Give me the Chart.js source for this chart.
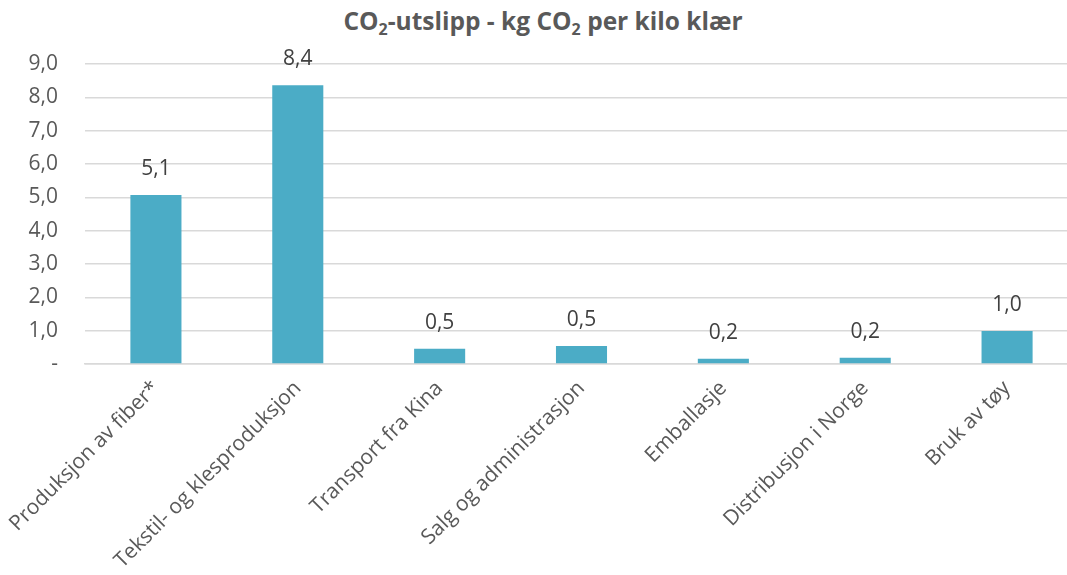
<!DOCTYPE html>
<html>
<head>
<meta charset="utf-8">
<script src="https://cdn.jsdelivr.net/npm/chart.js@4"></script>
<style>
  html, body { margin: 0; padding: 0; background: #fff; overflow: hidden; }
  #wrap { position: relative; width: 1067px; height: 575px; overflow: hidden; }
  #title {
    position: absolute; left: 0; top: 4px; width: 1086px; text-align: center;
    font-family: 'Open Sans', sans-serif; font-weight: bold; font-size: 24.5px; color: #595959;
  }
  #title sub { font-size: 16px; vertical-align: -5px; line-height: 0; }
  canvas { position: absolute; left: 0; top: 0; }
</style>
</head>
<body>
<div id="wrap">
  <div id="title">CO<sub>2</sub>-utslipp - kg CO<sub>2</sub> per kilo klær</div>
  <canvas id="chart" width="1078" height="575"></canvas>
</div>
<script>
// Data
const categories = [
  'Produksjon av fiber*',
  'Tekstil- og klesproduksjon',
  'Transport fra Kina',
  'Salg og administrasjon',
  'Emballasje',
  'Distribusjon i Norge',
  'Bruk av tøy'
];
const emissions = [5.07, 8.36, 0.46, 0.54, 0.16, 0.19, 0.99];
const yTicks = [0, 1, 2, 3, 4, 5, 6, 7, 8, 9];

const fmt = v => v.toFixed(1).replace('.', ',');

// Value labels above the bars
const barLabels = {
  id: 'barLabels',
  afterDatasetsDraw(chart) {
    const ctx = chart.ctx;
    const meta = chart.getDatasetMeta(0);
    ctx.save();
    ctx.fillStyle = '#404040';
    ctx.font = "21px 'Open Sans', sans-serif";
    ctx.textAlign = 'center';
    ctx.textBaseline = 'middle';
    meta.data.forEach((bar, i) => {
      ctx.fillText(fmt(emissions[i]), bar.x, bar.y - 26);
    });
    ctx.restore();
  }
};

Chart.defaults.font.family = "'Open Sans', sans-serif";
Chart.defaults.color = '#595959';

new Chart(document.getElementById('chart'), {
  type: 'bar',
  data: {
    labels: categories,
    datasets: [{
      data: emissions,
      backgroundColor: '#4BACC6',
      categoryPercentage: 1,
      barPercentage: 0.36
    }]
  },
  options: {
    responsive: false,
    animation: false,
    layout: { padding: { top: 64, right: 0, left: 0, bottom: 0 } },
    plugins: { legend: { display: false }, tooltip: { enabled: false } },
    scales: {
      x: {
        grid: { display: false },
        border: { color: '#D9D9D9', width: 1.5 },
        ticks: {
          minRotation: 45, maxRotation: 45, autoSkip: false,
          font: { size: 21 }, color: '#595959', padding: 4
        },
        afterFit(scale) { scale.height = 211; }
      },
      y: {
        min: 0, max: 9,
        afterBuildTicks(scale) { scale.ticks = yTicks.map(v => ({ value: v })); },
        grid: { color: '#D9D9D9', lineWidth: 1.5, drawTicks: false },
        border: { display: false },
        ticks: {
          font: { size: 21 }, color: '#595959', padding: 27,
          callback: v => v === 0 ? '-' : fmt(v)
        },
        afterFit(scale) { scale.width = 85; }
      }
    }
  },
  plugins: [barLabels]
});
</script>
</body>
</html>
